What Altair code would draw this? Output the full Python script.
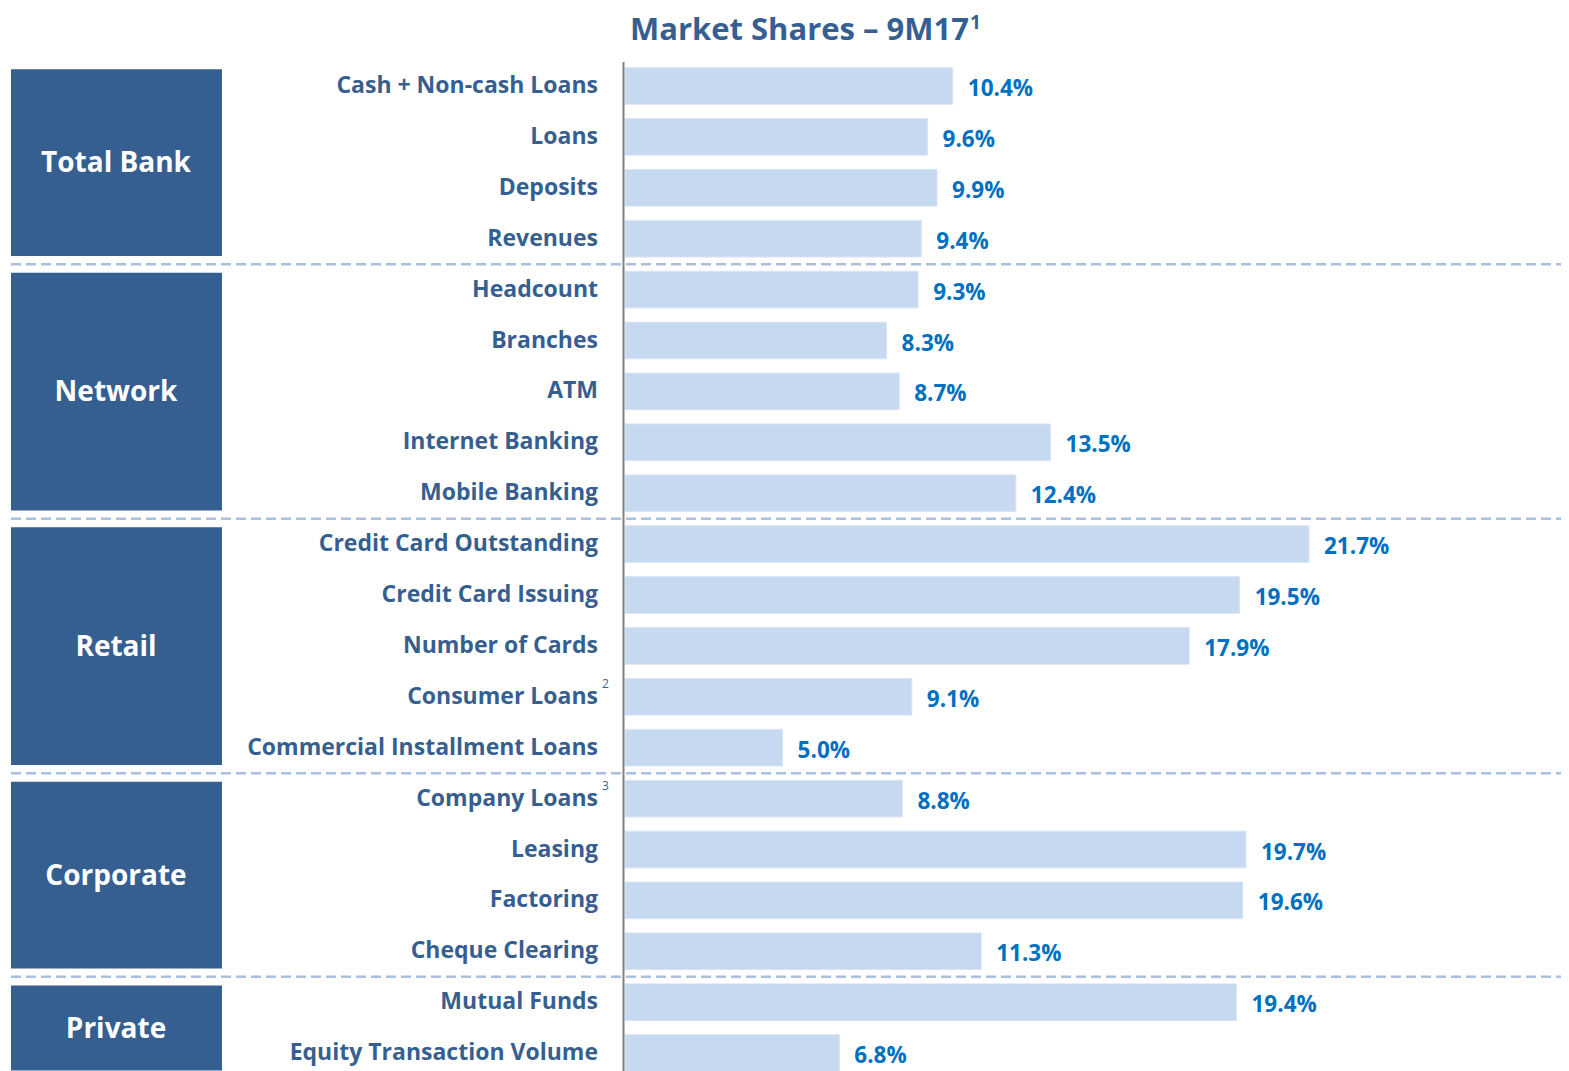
import altair as alt
import pandas as pd

# ---------------- data ----------------
labels = [
    "Cash + Non-cash Loans", "Loans", "Deposits", "Revenues",
    "Headcount", "Branches", "ATM", "Internet Banking", "Mobile Banking",
    "Credit Card Outstanding", "Credit Card Issuing", "Number of Cards",
    "Consumer Loans", "Commercial Installment Loans",
    "Company Loans", "Leasing", "Factoring", "Cheque Clearing",
    "Mutual Funds", "Equity Transaction Volume",
]
values = [10.4, 9.6, 9.9, 9.4,
          9.3, 8.3, 8.7, 13.5, 12.4,
          21.7, 19.5, 17.9, 9.1, 5.0,
          8.8, 19.7, 19.6, 11.3,
          19.4, 6.8]
groups = ["Total Bank", "Network", "Retail", "Corporate", "Private"]
group_sizes = [4, 5, 5, 4, 2]
note_labels = ["Consumer Loans", "Company Loans"]
note_marks = ["2", "3"]
title_text = "Market Shares \u2013 9M17"
title_note = "1"

# ---------------- tables ----------------
df = pd.DataFrame({"label": labels, "value": values, "row": list(range(len(labels)))})

starts = []
s = 0
for n in group_sizes:
    starts.append(s)
    s += n
gdf = pd.DataFrame({
    "group": groups,
    "start": starts,
    "end": [st + n - 1 for st, n in zip(starts, group_sizes)],
})
sdf = pd.DataFrame({"sep": [st - 0.5 for st in starts[1:]]})
fdf = pd.DataFrame({"note": note_marks,
                    "row": [labels.index(l) for l in note_labels]})

# ---------------- scales ----------------
ROW0, STEP = 78, 50.9
yscale = alt.Scale(domain=[0, 19], range=[ROW0, ROW0 + 19 * STEP])
X0, PX = 617, 31.52
xscale = alt.Scale(domain=[0, 25], range=[X0, X0 + 25 * PX])

FONT = "Open Sans"
DARK = "#365F91"

bars = alt.Chart(df).transform_calculate(
    y1="datum.row - 0.36", y2="datum.row + 0.36"
).mark_bar(color="#C6D9F1", stroke="#D9E5F4", strokeWidth=1).encode(
    x=alt.X("value:Q", scale=xscale, axis=None),
    x2=alt.datum(0),
    y=alt.Y("y1:Q", scale=yscale, axis=None),
    y2="y2:Q",
)

cat = alt.Chart(df).mark_text(
    align="right", baseline="middle", font=FONT, fontWeight="bold",
    fontSize=23, color=DARK, dy=0
).encode(
    x=alt.value(590),
    y=alt.Y("row:Q", scale=yscale, axis=None),
    text="label:N",
)

notes = alt.Chart(fdf).mark_text(
    align="left", baseline="middle", font=FONT, fontSize=12, color=DARK, dy=-13
).encode(
    x=alt.value(594),
    y=alt.Y("row:Q", scale=yscale, axis=None),
    text="note:N",
)

vals = alt.Chart(df).transform_calculate(
    txt="format(datum.value, '.1f') + '%'"
).mark_text(
    align="left", baseline="middle", dx=15, dy=3, font=FONT, fontWeight="bold",
    fontSize=22.5, color="#0070C0"
).encode(
    x=alt.X("value:Q", scale=xscale, axis=None),
    y=alt.Y("row:Q", scale=yscale, axis=None),
    text="txt:N",
)

boxes = alt.Chart(gdf).transform_calculate(
    top="datum.start - 0.33", bot="datum.end + 0.34"
).mark_rect(color=DARK).encode(
    x=alt.value(3), x2=alt.value(214),
    y=alt.Y("top:Q", scale=yscale, axis=None),
    y2="bot:Q",
)

glabels = alt.Chart(gdf).transform_calculate(
    mid="(datum.start + datum.end) / 2"
).mark_text(
    align="center", baseline="middle", font=FONT, fontWeight="bold",
    fontSize=28, color="white", dy=2
).encode(
    x=alt.value(108),
    y=alt.Y("mid:Q", scale=yscale, axis=None),
    text="group:N",
)

dashes = alt.Chart(sdf).mark_rule(
    color="#A9C0DE", strokeWidth=2.5, strokeDash=[10, 5]
).encode(
    x=alt.value(3), x2=alt.value(1561),
    y=alt.Y("sep:Q", scale=yscale, axis=None),
)

axis_line = alt.Chart(pd.DataFrame({"v": [0]})).mark_rule(
    color="#808080", strokeWidth=2, xOffset=-1.5
).encode(
    x=alt.X("v:Q", scale=xscale, axis=None),
    y=alt.value(54), y2=alt.value(1100),
)

title = alt.Chart(pd.DataFrame({"t": [title_text]})).mark_text(
    align="right", baseline="alphabetic", font=FONT, fontWeight="bold",
    fontSize=31, color=DARK
).encode(x=alt.value(961), y=alt.value(32), text="t:N")

title_sup = alt.Chart(pd.DataFrame({"t": [title_note]})).mark_text(
    align="left", baseline="alphabetic", font=FONT, fontWeight="bold",
    fontSize=19, color=DARK
).encode(x=alt.value(962), y=alt.value(21), text="t:N")

chart = alt.layer(
    boxes, dashes, bars, axis_line, cat, notes, vals, glabels, title, title_sup
).properties(
    width=1553, height=1100, padding=0, autosize="none"
).configure_view(stroke=None)

chart.save("out.html", embed_options={"renderer": "svg", "actions": False})
